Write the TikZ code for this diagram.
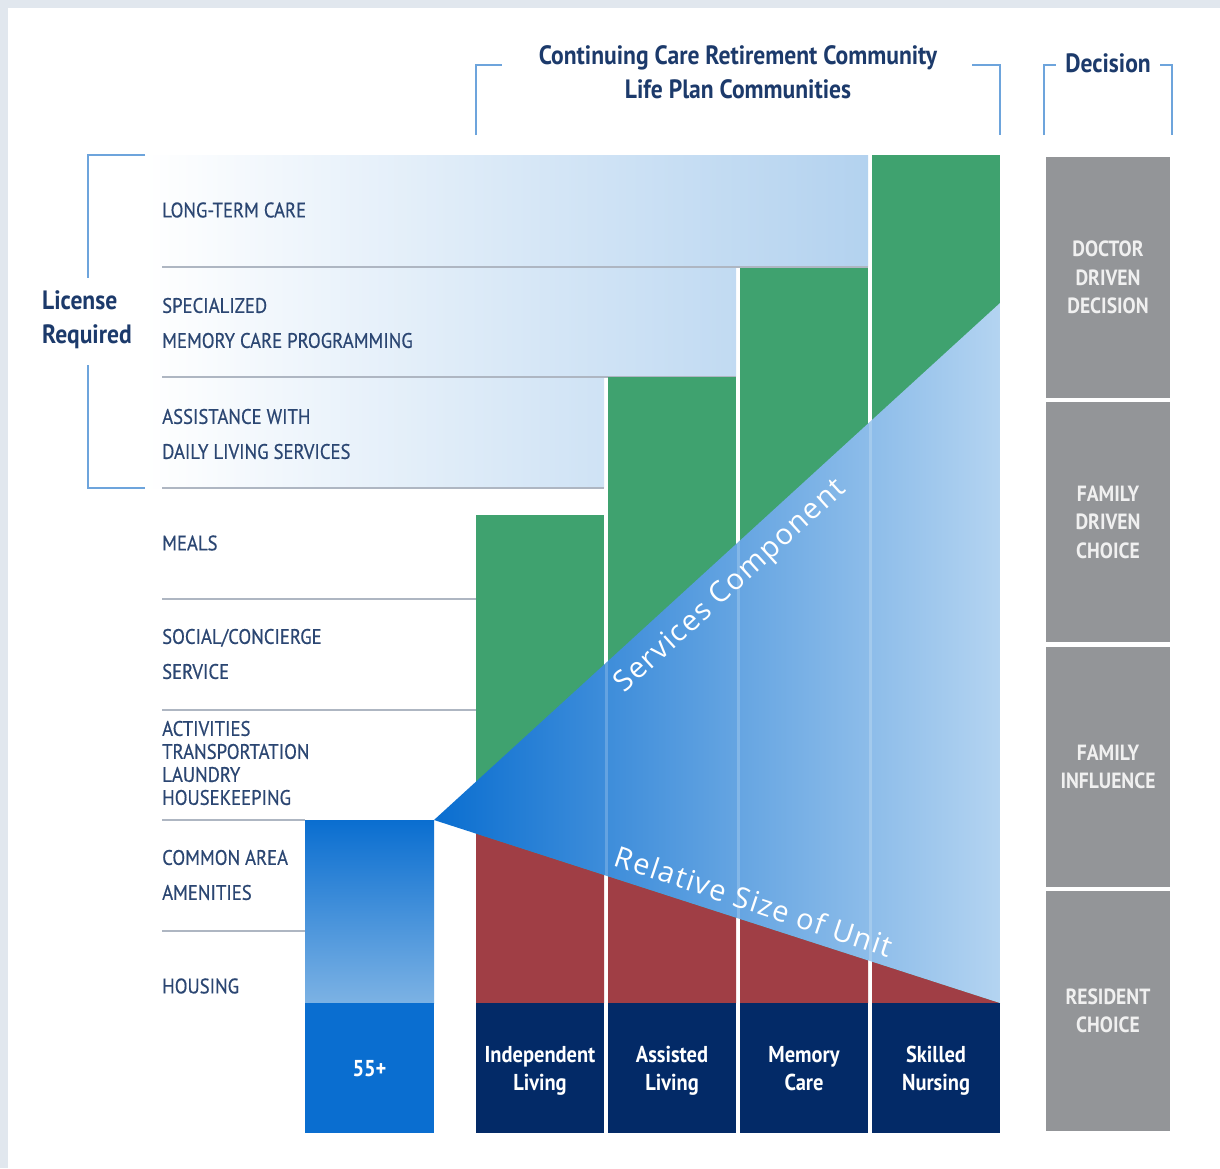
\documentclass[tikz,border=0pt]{standalone}
\usepackage{fontspec}
\setmainfont{PT Sans}[FakeStretch=0.89]
\newfontfamily\rowfont{PT Sans}[FakeStretch=0.89, FakeBold=0.5]
\newfontfamily\slopefont{Open Sans}[LetterSpace=5]
\usetikzlibrary{positioning}

\definecolor{framegray}{HTML}{E1E7EE}
\definecolor{inknavy}{HTML}{1C3A6B}
\definecolor{labelink}{HTML}{2B4672}
\definecolor{bracketblue}{HTML}{6DA4DC}
\definecolor{bandblue}{HTML}{B3D2EF}
\definecolor{rulegray}{HTML}{AEB6C2}
\definecolor{servgreen}{HTML}{3FA26F}
\definecolor{unitred}{HTML}{A03E45}
\definecolor{unitnavy}{HTML}{032A67}
\definecolor{trileft}{HTML}{0A6ED0}
\definecolor{triright}{HTML}{B4D4F1}
\definecolor{agefade}{HTML}{7CB2E4}
\definecolor{decgray}{HTML}{939598}

\tikzset{
  rowlabel/.style={anchor=west, align=left, inner sep=0pt, text=labelink,
    font=\fontsize{21}{35}\selectfont\rowfont},
  heading/.style={align=center, inner sep=0pt, text=inknavy,
    font=\fontsize{26.5}{34}\selectfont\bfseries},
  bracket/.style={draw=bracketblue, line width=1.6pt},
  sepline/.style={draw=rulegray, line width=1.4pt},
  unitbox/.style={fill=unitnavy, text=white, align=center, inner sep=0pt,
    minimum width=128pt, minimum height=130pt, text depth=0pt,
    font=\fontsize{23}{28}\selectfont\bfseries},
  decbox/.style={fill=decgray, text=white!94!black, align=center, inner sep=0pt,
    minimum width=124pt, minimum height=240pt,
    font=\fontsize{22}{28.5}\selectfont\bfseries},
  slopelabel/.style={text=white, inner sep=0pt,
    font=\fontsize{29}{30}\selectfont\slopefont}
}

\begin{document}
\begin{tikzpicture}[x=1pt, y=-1pt]

	% frame
	\fill[framegray] (0,0) rectangle (1220,1168);
	\fill[white] (8,8) rectangle (1220,1168);
	\useasboundingbox (0,0) rectangle (1220,1168);

	% licensed services band
	\shade[left color=white, right color=bandblue] (145,155) -- (868,155) -- (868,267) -- (736,267)
		-- (736,377) -- (604,377) -- (604,488) -- (145,488) -- cycle;

	% row rules
	\draw[sepline] (162,267) -- (868,267);
	\draw[sepline] (162,377) -- (736,377);
	\draw[sepline] (162,488) -- (604,488);
	\foreach \y in {599, 710}
	\draw[sepline] (162,\y) -- (476,\y);
	\foreach \y in {820, 931}
	\draw[sepline] (162,\y) -- (305,\y);

	% row labels
	\node[rowlabel] (ltc) at (162,210) {LONG-TERM CARE};
	\node[rowlabel] (mem) at (162,323) {SPECIALIZED\\MEMORY CARE PROGRAMMING};
	\node[rowlabel] (adl) at (162,434) {ASSISTANCE WITH\\DAILY LIVING SERVICES};
	\node[rowlabel] (meals) at (162,543) {MEALS};
	\node[rowlabel] (social) at (162,654) {SOCIAL/CONCIERGE\\SERVICE};
	\node[rowlabel, font=\fontsize{21}{23}\selectfont\rowfont] (chores) at (162,763)
		{ACTIVITIES\\TRANSPORTATION\\LAUNDRY\\HOUSEKEEPING};
	\node[rowlabel] (common) at (162,875) {COMMON AREA\\AMENITIES};
	\node[rowlabel] (housing) at (162,986) {HOUSING};

	% service columns (green), one per level of care
	\foreach \i/\top in {0/515, 1/377, 2/268, 3/155}
	\fill[servgreen] ({476+132*\i},\top) rectangle ++(128,{1003-\top});

	% unit size under the falling edge
	\foreach \i in {0,...,3} {
		\pgfmathsetmacro\xa{476+132*\i}
		\pgfmathsetmacro\xb{\xa+128}
		\pgfmathsetmacro\ya{820+(\xa-434)/566*183}
		\pgfmathsetmacro\yb{820+(\xb-434)/566*183}
		\fill[unitred] (\xa,\ya) -- (\xb,\yb) -- (\xb,1003) -- (\xa,1003) -- cycle;
	}

	% wedge
	\shade[left color=trileft, right color=triright] (434,820) -- (1000,303) -- (1000,1003) -- cycle;
	\begin{scope}
		\clip (434,820) -- (1000,303) -- (1000,1003) -- cycle;
		\foreach \x in {606, 738, 870}
		\draw[white, opacity=0.2, line width=3pt] (\x,155) -- (\x,1003);
	\end{scope}
	\node[slopelabel, rotate=42.4] (svc) at (731,587) {Services Component};
	\node[slopelabel, rotate=-18.5] (size) at (754,901) {Relative Size of Unit};

	% 55+ column
	\shade[top color=trileft, bottom color=agefade] (305,820) rectangle (434,1003);
	\node[unitbox, fill=trileft, minimum width=129pt] (age) at (369.5,1068) {55+};

	% levels of care
	\node[unitbox] (il) at (540,1068) {Independent\\Living};
	\node[unitbox] (al) at (672,1068) {Assisted\\Living};
	\node[unitbox] (mc) at (804,1068) {Memory\\Care};
	\node[unitbox] (sn) at (936,1068) {Skilled\\Nursing};

	% decision column
	\node[decbox, minimum height=241pt] (doc) at (1108,277.5) {DOCTOR\\DRIVEN\\DECISION};
	\node[decbox] (famc) at (1108,522) {FAMILY\\DRIVEN\\CHOICE};
	\node[decbox] (fami) at (1108,767) {FAMILY\\INFLUENCE};
	\node[decbox] (res) at (1108,1011) {RESIDENT\\CHOICE};

	% headings and brackets
	\node[heading] (ccrc) at (738,72) {Continuing Care Retirement Community\\Life Plan Communities};
	\draw[bracket] (476,135) |- (502,65);
	\draw[bracket] (972,65) -| (1000,135);

	\node[heading] (dec) at (1108,63) {Decision};
	\draw[bracket] (1044,135) |- (1056,65);
	\draw[bracket] (1160,65) -| (1172,135);

	\node[heading, anchor=west, align=left] (lic) at (42,320) {License\\Required};
	\draw[bracket] (145,155) -| (88,278);
	\draw[bracket] (88,365) |- (145,488);

\end{tikzpicture}
\end{document}
